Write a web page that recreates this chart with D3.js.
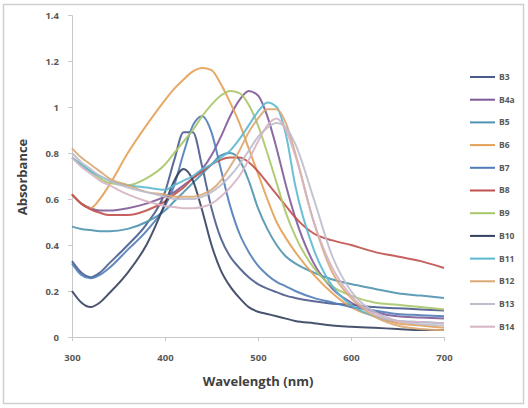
<!DOCTYPE html>
<html>
<head>
<meta charset="utf-8">
<script src="https://cdn.jsdelivr.net/npm/d3@7"></script>
<style>
  html, body { margin: 0; padding: 0; background: #fff; }
  svg { display: block; }
  text { font-family: "Open Sans", "Liberation Sans", sans-serif; }
</style>
</head>
<body>
<svg id="chart" width="528" height="408"></svg>
<script>
// ---- data ----
const wavelengths = [300,310,320,330,340,360,380,400,410,420,430,440,450,460,470,480,490,500,510,520,530,540,560,580,600,625,650,675,700];
const seriesNames = ["B3","B4a","B5","B6","B7","B8","B9","B10","B11","B12","B13","B14"];
const B3  = [0.33,0.28,0.26,0.28,0.32,0.40,0.49,0.63,0.77,0.89,0.89,0.74,0.56,0.43,0.35,0.30,0.26,0.23,0.21,0.195,0.18,0.17,0.155,0.145,0.14,0.13,0.125,0.12,0.115];
const B4a = [0.62,0.58,0.56,0.55,0.55,0.56,0.58,0.61,0.63,0.66,0.69,0.73,0.79,0.87,0.96,1.03,1.07,1.05,0.96,0.82,0.66,0.52,0.32,0.21,0.15,0.11,0.09,0.085,0.08];
const B5  = [0.48,0.47,0.465,0.46,0.46,0.47,0.50,0.55,0.59,0.63,0.67,0.71,0.75,0.79,0.80,0.77,0.68,0.56,0.47,0.40,0.35,0.32,0.28,0.25,0.23,0.21,0.19,0.18,0.17];
const B6  = [0.62,0.58,0.56,0.60,0.66,0.80,0.92,1.03,1.08,1.12,1.155,1.17,1.16,1.10,1.02,0.93,0.82,0.71,0.60,0.50,0.43,0.37,0.27,0.19,0.13,0.09,0.06,0.05,0.04];
const B7  = [0.32,0.27,0.255,0.27,0.30,0.38,0.46,0.57,0.66,0.80,0.92,0.96,0.89,0.73,0.57,0.45,0.37,0.31,0.27,0.24,0.22,0.20,0.17,0.15,0.13,0.115,0.10,0.095,0.09];
const B8  = [0.62,0.58,0.555,0.54,0.53,0.53,0.55,0.59,0.62,0.65,0.69,0.72,0.75,0.77,0.78,0.78,0.76,0.72,0.67,0.62,0.57,0.52,0.45,0.42,0.40,0.37,0.35,0.33,0.30];
const B9  = [0.78,0.75,0.72,0.69,0.67,0.66,0.69,0.75,0.80,0.85,0.90,0.96,1.01,1.05,1.07,1.06,1.01,0.92,0.80,0.67,0.54,0.44,0.30,0.22,0.18,0.15,0.14,0.13,0.12];
const B10 = [0.20,0.15,0.13,0.15,0.19,0.28,0.40,0.58,0.68,0.73,0.68,0.55,0.40,0.29,0.22,0.17,0.13,0.11,0.10,0.09,0.08,0.07,0.06,0.05,0.045,0.04,0.035,0.03,0.03];
const B11 = [0.78,0.75,0.72,0.70,0.68,0.66,0.65,0.64,0.66,0.68,0.70,0.73,0.75,0.78,0.81,0.86,0.92,0.98,1.02,1.00,0.88,0.66,0.38,0.22,0.14,0.09,0.07,0.065,0.06];
const B12 = [0.82,0.78,0.75,0.72,0.69,0.66,0.63,0.62,0.61,0.61,0.61,0.62,0.64,0.68,0.74,0.81,0.89,0.95,0.99,0.99,0.93,0.80,0.50,0.28,0.17,0.09,0.05,0.035,0.03];
const B13 = [0.80,0.76,0.73,0.70,0.68,0.65,0.63,0.61,0.60,0.60,0.60,0.61,0.63,0.66,0.70,0.75,0.81,0.87,0.91,0.93,0.91,0.84,0.60,0.35,0.20,0.11,0.07,0.055,0.05];
const B14 = [0.78,0.74,0.71,0.68,0.66,0.62,0.59,0.57,0.565,0.56,0.56,0.565,0.58,0.61,0.65,0.70,0.77,0.85,0.92,0.95,0.90,0.79,0.50,0.30,0.18,0.10,0.07,0.065,0.06];
const seriesValues = [B3,B4a,B5,B6,B7,B8,B9,B10,B11,B12,B13,B14];
const xTicks = [300,400,500,600,700];
const yTicks = [0,0.2,0.4,0.6,0.8,1,1.2,1.4];
const xTitle = "Wavelength (nm)";
const yTitle = "Absorbance";

// ---- styles ----
const colors = ["#4a5b8c","#7f5a98","#4f93b0","#e3a056","#4f7cb8","#c0504d","#a9c66a","#34405e","#5cb8d0","#d9a874","#bdbdcc","#d6b4c4"];

const svg = d3.select("#chart");
const W = 528, H = 408;
// outer chart border
svg.append("rect").attr("x",3.5).attr("y",4.5).attr("width",W-8).attr("height",H-9)
  .attr("fill","#fff").attr("stroke","#d0d0d0").attr("stroke-width",1.5);

const x = d3.scaleLinear().domain([300,700]).range([72,444]);
const y = d3.scaleLinear().domain([0,1.4]).range([337,15]);

// y axis
const yAxis = svg.append("g").attr("transform","translate(72,0)")
  .call(d3.axisLeft(y).tickValues(yTicks).tickSize(4).tickFormat(d3.format("")));
yAxis.select(".domain").attr("stroke","#c8c8c8");
yAxis.selectAll(".tick line").attr("stroke","#c8c8c8");
yAxis.selectAll(".tick text").attr("fill","#595959").attr("font-size","9.5px").attr("font-weight","bold").attr("dx","-6");

// x axis
const xAxis = svg.append("g").attr("transform","translate(0,337)")
  .call(d3.axisBottom(x).tickValues(xTicks).tickSize(4).tickFormat(d3.format("")));
xAxis.select(".domain").attr("stroke","#c8c8c8");
xAxis.selectAll(".tick line").attr("stroke","#c8c8c8");
xAxis.selectAll(".tick text").attr("fill","#595959").attr("font-size","9.5px").attr("font-weight","bold").attr("dy","1.75em");

// titles
svg.append("text").attr("x",258).attr("y",386).attr("text-anchor","middle")
  .attr("font-size","13px").attr("font-weight","bold").attr("fill","#404040").text(xTitle);
svg.append("text").attr("transform","translate(27,177) rotate(-90)").attr("text-anchor","middle")
  .attr("font-size","13px").attr("font-weight","bold").attr("fill","#404040").text(yTitle);

// lines
const line = d3.line().x(d => x(d[0])).y(d => y(d[1])).curve(d3.curveMonotoneX);
const g = svg.append("g");
seriesValues.forEach((vals, i) => {
  g.append("path")
    .datum(wavelengths.map((w, j) => [w, vals[j]]))
    .attr("fill","none").attr("stroke",colors[i]).attr("stroke-width",2)
    .attr("stroke-opacity",0.9).attr("d", line);
});

// legend
const leg = svg.append("g");
seriesNames.forEach((name, i) => {
  const ly = 77 + i * 22.7;
  leg.append("line").attr("x1",470).attr("x2",495).attr("y1",ly).attr("y2",ly)
    .attr("stroke",colors[i]).attr("stroke-width",2);
  leg.append("text").attr("x",499).attr("y",ly).attr("dy","0.35em")
    .attr("font-size","8.5px").attr("font-weight","bold").attr("fill","#595959").text(name);
});
</script>
</body>
</html>
